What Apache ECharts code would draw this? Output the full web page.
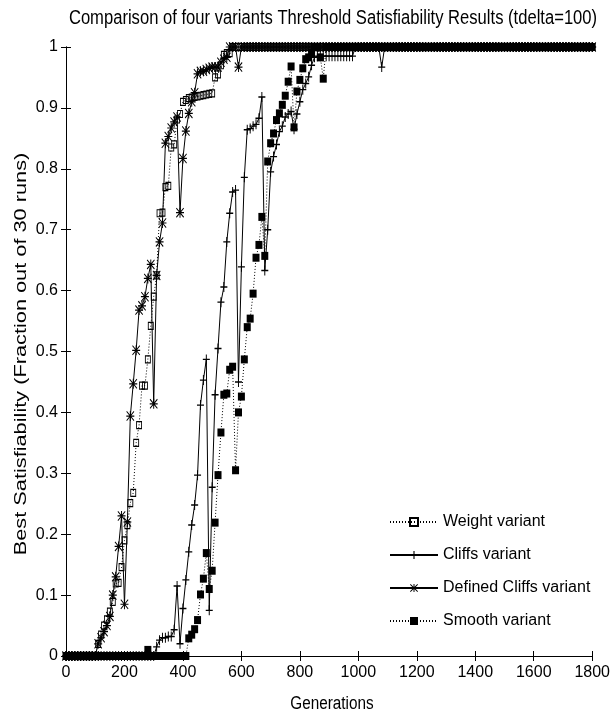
<!DOCTYPE html>
<html>
<head>
<meta charset="utf-8">
<script src="https://cdn.jsdelivr.net/npm/echarts@6/dist/echarts.min.js"></script>
<style>
html,body{margin:0;padding:0;background:#fff;}
#c{width:613px;height:717px;}
</style>
</head>
<body>
<div id="c"></div>
<script>
// Generations sampled every 10 (0..1800)
var generations = [];
for (var g = 0; g <= 1800; g += 10) generations.push(g);

var xTicks = [0,200,400,600,800,1000,1200,1400,1600,1800];
var yTicks = [0,0.1,0.2,0.3,0.4,0.5,0.6,0.7,0.8,0.9,1];

var titleText = 'Comparison of four variants Threshold Satisfiability Results (tdelta=100)';
var xName = 'Generations';
var yName = 'Best Satisfiability (Fraction out of 30 runs)';
var seriesNames = ['Weight variant','Cliffs variant','Defined Cliffs variant','Smooth variant'];

// rows of ten values: gens X00..X90
var weightVals = [
0,0,0,0,0,0,0,0,0,0,
0,0.02,0.035,0.05,0.06,0.073,0.089,0.119,0.12,0.146,
0.19,0.215,0.251,0.268,0.35,0.379,0.444,0.444,0.487,0.542,
0.59,0.625,0.727,0.728,0.77,0.772,0.835,0.84,0.881,0.89,
0.91,0.913,0.916,0.917,0.918,0.919,0.92,0.921,0.922,0.923,
0.924,0.95,0.955,0.97,0.987,0.99,0.99,1,1,1,
1,1,1,1,1,1,1,1,1,1,
1,1,1,1,1,1,1,1,1,1,
1,1,1,1,1,1,1,1,1,1,
1,1,1,1,1,1,1,1,1,1,
1,1,1,1,1,1,1,1,1,1,
1,1,1,1,1,1,1,1,1,1,
1,1,1,1,1,1,1,1,1,1,
1,1,1,1,1,1,1,1,1,1,
1,1,1,1,1,1,1,1,1,1,
1,1,1,1,1,1,1,1,1,1,
1,1,1,1,1,1,1,1,1,1,
1,1,1,1,1,1,1,1,1,1,
1
];

var cliffsVals = [
0,0,0,0,0,0,0,0,0,0,
0,0,0,0,0,0,0,0,0,0,
0,0,0,0,0,0,0,0,0,0,
0,0.015,0.026,0.03,0.03,0.032,0.032,0.043,0.115,0.02,
0.078,0.125,0.171,0.215,0.248,0.297,0.412,0.453,0.487,0.075,
0.277,0.429,0.505,0.581,0.606,0.68,0.727,0.762,0.765,0.45,
0.639,0.786,0.864,0.866,0.87,0.873,0.883,0.918,0.633,0.70,
0.795,0.82,0.84,0.861,0.87,0.885,0.89,0.894,0.865,0.89,
0.91,0.93,0.94,0.951,0.97,0.983,0.985,0.985,0.985,0.985,
0.985,0.985,0.985,0.985,0.985,0.985,0.985,0.985,0.985,1,
1,1,1,1,1,1,1,1,0.967,1,
1,1,1,1,1,1,1,1,1,1,
1,1,1,1,1,1,1,1,1,1,
1,1,1,1,1,1,1,1,1,1,
1,1,1,1,1,1,1,1,1,1,
1,1,1,1,1,1,1,1,1,1,
1,1,1,1,1,1,1,1,1,1,
1,1,1,1,1,1,1,1,1,1,
1
];

var definedCliffsVals = [
0,0,0,0,0,0,0,0,0,0,
0,0.02,0.03,0.04,0.05,0.065,0.1,0.13,0.18,0.23,
0.085,0.22,0.394,0.447,0.502,0.568,0.575,0.59,0.62,0.643,
0.414,0.625,0.68,0.711,0.842,0.853,0.867,0.877,0.885,0.728,
0.817,0.862,0.891,0.91,0.925,0.956,0.96,0.96,0.963,0.965,
0.967,0.967,0.967,0.975,0.98,0.983,1,1,1,0.967,
1,1,1,1,1,1,1,1,1,1,
1,1,1,1,1,1,1,1,1,1,
1,1,1,1,1,1,1,1,1,1,
1,1,1,1,1,1,1,1,1,1,
1,1,1,1,1,1,1,1,1,1,
1,1,1,1,1,1,1,1,1,1,
1,1,1,1,1,1,1,1,1,1,
1,1,1,1,1,1,1,1,1,1,
1,1,1,1,1,1,1,1,1,1,
1,1,1,1,1,1,1,1,1,1,
1,1,1,1,1,1,1,1,1,1,
1,1,1,1,1,1,1,1,1,1,
1
];

var smoothVals = [
0,0,0,0,0,0,0,0,0,0,
0,0,0,0,0,0,0,0,0,0,
0,0,0,0,0,0,0,0,0.01,0,
0,0,0,0,0,0,0,0,0,0,
0,0,0.029,0.035,0.044,0.059,0.101,0.127,0.169,0.11,
0.14,0.219,0.297,0.367,0.429,0.431,0.47,0.475,0.305,0.4,
0.426,0.487,0.54,0.554,0.595,0.654,0.675,0.721,0.657,0.812,
0.842,0.858,0.88,0.891,0.905,0.92,0.943,0.968,0.868,0.927,
0.946,0.965,0.98,0.983,0.99,1,1,0.983,0.948,1,
1,1,1,1,1,1,1,1,1,1,
1,1,1,1,1,1,1,1,1,1,
1,1,1,1,1,1,1,1,1,1,
1,1,1,1,1,1,1,1,1,1,
1,1,1,1,1,1,1,1,1,1,
1,1,1,1,1,1,1,1,1,1,
1,1,1,1,1,1,1,1,1,1,
1,1,1,1,1,1,1,1,1,1,
1,1,1,1,1,1,1,1,1,1,
1
];

function pairs(vals){
  var out = [];
  for (var i = 0; i < vals.length && i < generations.length; i++) out.push([generations[i], vals[i]]);
  return out;
}

var PLUS = 'path://M4.3,0H5.7V10H4.3Z M0,4.3H10V5.7H0Z';
var STAR = 'path://M4.4,0H5.6V10H4.4Z M0,4.4H10V5.6H0Z M0.8,0L10,9.2L9.2,10L0,0.8Z M9.2,0L10,0.8L0.8,10L0,9.2Z';
var SANS = '"Liberation Sans",Arial,sans-serif';

var chart = echarts.init(document.getElementById('c'), null, {renderer:'canvas'});

function axisCommon(){
  return {
    type:'value',
    axisLine:{show:true,lineStyle:{color:'#000',width:1}},
    axisTick:{show:true,inside:true,length:5,lineStyle:{color:'#000',width:1}},
    splitLine:{show:false}
  };
}
function fmt(v){ return String(v); }

var xMain = Object.assign(axisCommon(), {
  min:xTicks[0],max:xTicks[xTicks.length-1],interval:xTicks[1]-xTicks[0],position:'bottom',
  axisLabel:{color:'#000',fontFamily:SANS,fontSize:16,margin:9,formatter:fmt}
});
var xTop = Object.assign(axisCommon(), {
  min:xTicks[0],max:xTicks[xTicks.length-1],interval:xTicks[1]-xTicks[0],position:'top',axisLabel:{show:false}
});
var yMain = Object.assign(axisCommon(), {
  min:yTicks[0],max:yTicks[yTicks.length-1],interval:0.1,position:'left',
  axisLabel:{color:'#000',fontFamily:SANS,fontSize:16,margin:8,formatter:fmt}
});
var yRight = Object.assign(axisCommon(), {
  min:yTicks[0],max:yTicks[yTicks.length-1],interval:0.1,position:'right',axisLabel:{show:false}
});

function mk(name, vals, sym, size, lineType, itemStyle){
  return {
    name:name,type:'line',data:pairs(vals),
    xAxisIndex:0,yAxisIndex:0,
    symbol:sym,symbolSize:size,showSymbol:true,showAllSymbol:true,
    clip:false,
    lineStyle:{color:'#000',width:1,type:lineType},
    itemStyle:itemStyle,
    emphasis:{disabled:true},
    animation:false
  };
}

chart.setOption({
  backgroundColor:'#fff',
  animation:false,
  grid:{left:66,right:15,top:47,bottom:61,containLabel:false},
  xAxis:[xMain,xTop],
  yAxis:[yMain,yRight],
  legend:{
    orient:'vertical',left:384,top:509,
    itemWidth:48,itemHeight:10,itemGap:17,
    textStyle:{color:'#000',fontFamily:SANS,fontSize:16},
    data:seriesNames
  },
  graphic:[{
    type:'text',
    x:333,y:18,
    scaleX:0.83,scaleY:1.05,
    style:{text:titleText,font:'20px "Liberation Sans",Arial,sans-serif',fill:'#000',align:'center',verticalAlign:'middle'}
  },{
    type:'text',
    x:332,y:704,
    scaleX:0.85,scaleY:1,
    style:{text:xName,font:'18px "Liberation Sans",Arial,sans-serif',fill:'#000',align:'center',verticalAlign:'middle'}
  },{
    type:'text',
    x:22,y:354,
    rotation:Math.PI/2,
    scaleX:1.45,scaleY:1.05,
    style:{text:yName,font:'15px "Liberation Sans",Arial,sans-serif',fill:'#000',align:'center',verticalAlign:'middle'}
  }],
  series:[
    mk(seriesNames[0], weightVals, 'rect', [5,7], [1,2], {color:'rgba(255,255,255,0)',borderColor:'#000',borderWidth:1}),
    mk(seriesNames[1], cliffsVals, PLUS, [7,10], 'solid', {color:'#000',borderWidth:0}),
    mk(seriesNames[2], definedCliffsVals, STAR, [8,10], 'solid', {color:'#000',borderWidth:0}),
    mk(seriesNames[3], smoothVals, 'rect', [7,8], [1,2], {color:'#000',borderWidth:0})
  ]
});
</script>
</body>
</html>
